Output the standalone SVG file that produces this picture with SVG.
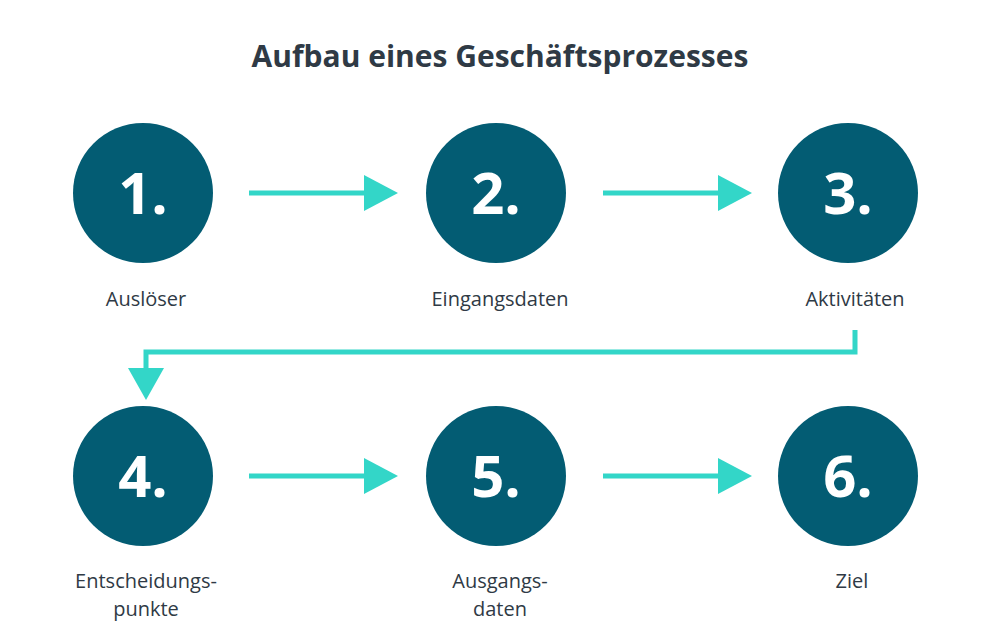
<svg xmlns="http://www.w3.org/2000/svg" width="1000" height="630" viewBox="0 0 1000 630">
<style>
.c{fill:#035c73}
.n{fill:#fff;font-family:"Open Sans",sans-serif;font-weight:bold;font-size:58px;text-anchor:middle}
.l{fill:#2f3a45;font-family:"Open Sans",sans-serif;font-size:20px;font-weight:500;text-anchor:middle}
.ln{stroke:#33d6c8;stroke-width:5;fill:none}
.ah{fill:#33d6c8}
</style>
<rect width="1000" height="630" fill="#fff"/>
<text x="500" y="67" fill="#2f3a45" font-family="Open Sans, sans-serif" font-weight="bold" font-size="30" text-anchor="middle">Aufbau eines Geschäftsprozesses</text>
<g id="connectors">
<line class="ln" x1="249" y1="193" x2="368" y2="193"/><polygon class="ah" points="364,175 398,193 364,211"/>
<line class="ln" x1="603" y1="193" x2="722" y2="193"/><polygon class="ah" points="718,175 752,193 718,211"/>
<polyline class="ln" points="855,330 855,352 146,352 146,372"/><polygon class="ah" points="128,368 146,400 164,368"/>
<line class="ln" x1="249" y1="476" x2="368" y2="476"/><polygon class="ah" points="364,458 398,476 364,494"/>
<line class="ln" x1="603" y1="476" x2="722" y2="476"/><polygon class="ah" points="718,458 752,476 718,494"/>
</g>
<g id="n1"><circle class="c" cx="143" cy="193" r="70"/><text class="n" x="143" y="214">1.</text><text class="l" x="146" y="306">Auslöser</text></g>
<g id="n2"><circle class="c" cx="496" cy="193" r="70"/><text class="n" x="496" y="214">2.</text><text class="l" x="500" y="306">Eingangsdaten</text></g>
<g id="n3"><circle class="c" cx="848" cy="193" r="70"/><text class="n" x="848" y="214">3.</text><text class="l" x="855" y="306">Aktivitäten</text></g>
<g id="n4"><circle class="c" cx="143" cy="476" r="70"/><text class="n" x="143" y="497">4.</text><text class="l" x="146" y="588">Entscheidungs-</text><text class="l" x="146" y="616">punkte</text></g>
<g id="n5"><circle class="c" cx="496" cy="476" r="70"/><text class="n" x="496" y="497">5.</text><text class="l" x="500" y="588">Ausgangs-</text><text class="l" x="500" y="616">daten</text></g>
<g id="n6"><circle class="c" cx="848" cy="476" r="70"/><text class="n" x="848" y="497">6.</text><text class="l" x="852" y="588">Ziel</text></g>
</svg>
